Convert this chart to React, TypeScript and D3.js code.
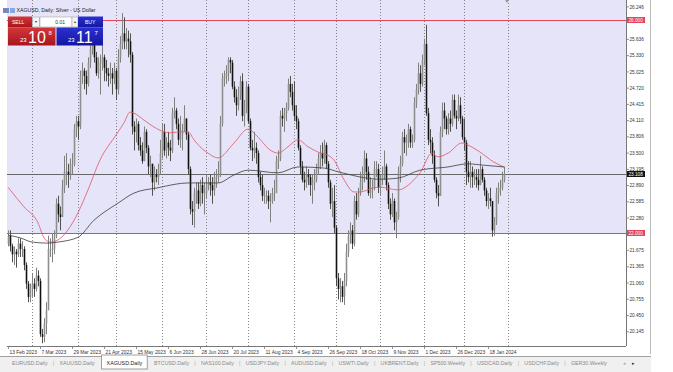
import React from 'react';
import * as d3 from 'd3';

// ---------- data ----------
const startDate = '2023-02-13';
const closedDays = ['2023-04-07', '2023-12-25', '2024-01-01'];
const firstOpen = 21.8;

const closes = [
  // Feb
  21.95, 21.75, 21.6, 21.65, 21.6, 21.8, 21.7, 21.7, 21.4, 21.05, 20.8, 20.95,
  // Mar
  21.05, 20.95, 21.2, 21.1, 20.1, 20.05, 20.3, 20.55, 21.7, 21.7, 21.7, 21.95, 22.55, 22.35, 22.3, 22.85, 23.15, 23.15, 23.1, 23.3, 23.3, 23.95, 24.1,
  // Apr
  24.0, 24.95, 25.05, 24.95, 24.8, 25.2, 25.45, 25.6, 25.3, 25.0, 25.2, 25.2, 25.3, 25.1, 25.0, 24.95, 25.0, 24.9, 25.05,
  // May
  24.7, 25.3, 25.55, 25.75, 25.6, 25.65, 25.6, 25.35, 24.0, 23.9, 24.05, 23.65, 23.55, 23.35, 23.9, 23.6, 23.25, 23.3, 22.95, 23.1, 23.05, 23.2, 23.5,
  // Jun
  23.9, 23.55, 23.7, 23.6, 23.55, 24.25, 24.3, 24.05, 23.75, 23.85, 23.95, 24.15, 23.85, 23.2, 22.45, 22.4, 22.75, 22.8, 22.55, 22.9, 22.75, 22.75,
  // Jul
  22.85, 22.95, 22.9, 22.8, 23.05, 23.05, 23.1, 24.05, 24.9, 24.95, 25.0, 25.25, 25.2, 24.75, 24.55, 24.4, 24.6, 24.85, 24.2, 24.35, 24.75,
  // Aug
  24.1, 23.6, 23.55, 23.6, 23.5, 23.05, 22.9, 22.7, 22.7, 22.7, 22.6, 22.6, 22.75, 22.75, 23.35, 23.4, 24.2, 24.15, 24.25, 24.35, 24.8, 24.65, 24.4,
  // Sep
  24.2, 24.1, 23.6, 23.25, 23.0, 22.95, 23.1, 23.05, 22.9, 22.95, 23.0, 23.2, 23.4, 23.5, 23.4, 23.65, 23.3, 22.95, 22.55, 22.6, 22.1,
  // Oct
  21.15, 20.95, 21.0, 20.8, 21.1, 21.65, 21.95, 22.05, 21.8, 22.6, 22.35, 22.75, 22.95, 23.1, 23.4, 23.15, 22.75, 22.85, 22.85, 23.2, 23.2, 22.85,
  // Nov
  23.0, 23.1, 23.25, 22.9, 22.55, 22.35, 22.6, 22.2, 22.3, 23.15, 23.3, 23.8, 23.7, 23.7, 23.95, 23.7, 23.75, 24.45, 24.7, 25.0, 24.8, 25.25,
  // Dec
  25.55, 24.25, 23.75, 23.7, 23.45, 23.0, 22.75, 22.7, 23.9, 24.3, 24.15, 23.95, 24.15, 24.05, 24.5, 24.2, 24.15, 24.4, 24.15, 23.8,
  // Jan
  23.7, 23.15, 23.05, 23.15, 23.05, 23.05, 23.0, 22.9, 23.2, 23.0, 22.8, 22.6, 22.65, 22.6, 22.05, 22.2, 22.75, 22.85, 22.85, 23.0, 23.108,
];

const highs = [
  22.05, 22.05, 21.8, 21.75, 21.7, 21.9, 21.9, 21.85, 21.75, 21.45, 21.1, 21.05,
  21.25, 21.15, 21.35, 21.3, 21.15, 20.2, 20.4, 20.7, 21.95, 21.9, 22.0, 22.05, 22.65, 22.7, 22.5, 23.0, 23.45, 23.5, 23.3, 23.4, 23.5, 24.05, 24.2,
  24.2, 25.05, 25.2, 25.1, 25.05, 25.3, 25.55, 25.72, 25.78, 25.4, 25.3, 25.35, 25.55, 25.35, 25.25, 25.1, 25.2, 25.1, 25.2,
  25.1, 25.45, 25.7, 26.13, 26.05, 25.85, 25.8, 25.75, 25.4, 24.1, 24.15, 24.1, 23.8, 23.7, 24.0, 23.95, 23.65, 23.45, 23.3, 23.25, 23.2, 23.3, 23.75,
  24.05, 24.05, 23.8, 23.9, 23.75, 24.35, 24.55, 24.35, 24.15, 24.2, 24.05, 24.4, 24.15, 23.9, 23.25, 22.6, 22.85, 22.95, 22.95, 23.0, 23.05, 22.95,
  23.1, 23.05, 23.1, 23.05, 23.15, 23.2, 23.35, 24.2, 25.0, 25.05, 25.15, 25.3, 25.3, 25.25, 24.85, 24.7, 24.75, 24.95, 25.0, 24.5, 24.85,
  24.8, 24.15, 23.75, 23.9, 23.7, 23.55, 23.15, 23.1, 22.85, 22.8, 22.8, 22.75, 22.85, 23.0, 23.45, 23.55, 24.3, 24.35, 24.35, 24.45, 24.9, 24.95, 24.8,
  24.85, 24.4, 24.15, 23.65, 23.35, 23.15, 23.25, 23.2, 23.1, 23.1, 23.2, 23.3, 23.5, 23.65, 23.7, 23.75, 23.7, 23.35, 23.0, 22.85, 22.9,
  22.15, 21.25, 21.15, 21.1, 21.25, 21.8, 22.05, 22.2, 22.15, 22.7, 22.75, 22.85, 23.15, 23.25, 23.55, 23.5, 23.25, 23.05, 23.0, 23.35, 23.35, 23.3,
  23.1, 23.25, 23.55, 23.3, 22.95, 22.65, 22.75, 22.65, 22.4, 23.25, 23.45, 23.9, 23.95, 23.85, 24.05, 24.0, 23.85, 24.55, 24.8, 25.2, 25.15, 25.35,
  25.65, 25.91, 24.35, 23.95, 23.8, 23.55, 23.05, 22.9, 24.0, 24.45, 24.45, 24.2, 24.25, 24.3, 24.6, 24.6, 24.3, 24.6, 24.55, 24.2,
  24.15, 23.75, 23.35, 23.35, 23.25, 23.2, 23.2, 23.2, 23.45, 23.25, 23.05, 22.85, 22.75, 22.85, 22.6, 22.3, 22.85, 22.95, 23.0, 23.15, 23.25,
];

const lows = [
  21.75, 21.65, 21.45, 21.4, 21.35, 21.55, 21.55, 21.55, 21.3, 20.95, 20.7, 20.7,
  20.8, 20.8, 20.9, 21.0, 20.05, 19.93, 19.95, 20.1, 20.55, 21.55, 21.45, 21.6, 21.9, 22.2, 22.05, 22.3, 22.75, 22.9, 22.85, 23.0, 23.1, 23.25, 23.8,
  23.75, 23.95, 24.8, 24.7, 24.6, 24.75, 25.1, 25.35, 25.2, 24.95, 24.9, 24.6, 25.05, 24.85, 24.85, 24.75, 24.8, 24.6, 24.8,
  24.5, 24.6, 25.2, 25.45, 25.45, 25.45, 25.3, 25.2, 23.85, 23.55, 23.7, 23.55, 23.45, 23.3, 23.35, 23.5, 23.1, 23.05, 22.7, 22.8, 22.95, 22.9, 23.1,
  23.4, 23.45, 23.4, 23.45, 23.35, 23.5, 24.15, 23.95, 23.65, 23.6, 23.55, 23.9, 23.75, 23.1, 22.35, 22.15, 22.1, 22.55, 22.45, 22.5, 22.55, 22.35,
  22.65, 22.8, 22.7, 22.55, 22.7, 22.85, 22.95, 23.05, 24.0, 24.75, 24.8, 24.85, 25.0, 24.7, 24.45, 24.2, 24.3, 24.5, 24.1, 24.0, 24.25,
  24.05, 23.55, 23.35, 23.4, 23.3, 22.95, 22.8, 22.6, 22.55, 22.55, 22.45, 22.2, 22.55, 22.6, 22.75, 23.2, 23.35, 24.0, 23.9, 24.1, 24.3, 24.55, 24.3,
  24.1, 23.95, 23.55, 23.1, 22.95, 22.8, 22.85, 22.9, 22.7, 22.55, 22.8, 22.95, 23.1, 23.2, 23.25, 23.3, 23.2, 22.85, 22.45, 22.3, 22.0,
  21.0, 20.75, 20.7, 20.7, 20.65, 21.0, 21.55, 21.8, 21.7, 21.75, 22.25, 22.3, 22.7, 22.8, 22.95, 23.0, 22.7, 22.65, 22.65, 22.8, 23.05, 22.75,
  22.7, 22.9, 23.0, 22.8, 22.45, 22.25, 22.3, 22.05, 21.9, 22.25, 22.95, 23.25, 23.5, 23.45, 23.6, 23.6, 23.6, 23.7, 24.35, 24.6, 24.65, 24.75,
  25.15, 24.2, 23.65, 23.5, 23.3, 22.95, 22.65, 22.5, 22.7, 23.8, 23.95, 23.85, 23.85, 23.9, 24.0, 24.15, 23.95, 24.1, 24.05, 23.75,
  23.55, 22.9, 22.95, 22.85, 22.85, 22.9, 22.85, 22.8, 22.9, 22.95, 22.7, 22.5, 22.45, 22.5, 21.93, 21.95, 22.15, 22.55, 22.7, 22.8, 22.95,
];

// moving averages: [bar index, price]
const redMA: [number, number][] = [
  [0, 22.86], [8, 22.49], [15, 22.19], [18, 21.91], [21, 21.83], [25, 21.87], [30, 22.06], [35, 22.38], [40, 22.81],
  [46, 23.37], [54, 23.84], [58, 24.07], [61, 24.27], [63, 24.25], [68, 24.12], [73, 23.99], [78, 23.9], [81, 23.88],
  [86, 23.9], [90, 23.9], [93, 23.75], [96, 23.62], [100, 23.5], [105, 23.41], [113, 23.69], [120, 23.95], [125, 23.8],
  [131, 23.56], [135, 23.5], [140, 23.62], [145, 23.75], [150, 23.62], [155, 23.52], [160, 23.46], [163, 23.37],
  [168, 23.0], [173, 22.77], [176, 22.77], [183, 22.85], [186, 22.86], [195, 22.81], [203, 23.0], [206, 23.13],
  [212, 23.5], [215, 23.43], [220, 23.5], [227, 23.69], [230, 23.65], [236, 23.52], [243, 23.33], [248, 23.24],
];
const greyMA: [number, number][] = [
  [0, 21.96], [6, 21.91], [12, 21.83], [20, 21.81], [25, 21.83], [35, 21.92], [43, 22.24], [55, 22.56], [63, 22.75],
  [75, 22.85], [90, 22.94], [105, 22.94], [113, 23.09], [120, 23.18], [135, 23.13], [145, 23.24], [158, 23.22],
  [165, 23.15], [186, 23.01], [195, 23.03], [206, 23.18], [220, 23.24], [230, 23.3], [236, 23.28], [248, 23.24],
];

const priceLabels = ['26.246', '25.636', '25.330', '25.025', '24.720', '24.415', '24.110', '23.806', '23.500', '23.195',
  '22.890', '22.585', '22.280', '21.675', '21.365', '21.060', '20.755', '20.450', '20.145'];
const levelLines = [26.0, 22.0];
const bid = 23.108;
const tabs = ['EURUSD.Daily', 'XAUUSD.Daily', 'XAGUSD.Daily', 'BTCUSD.Daily', 'NAS100.Daily', 'USDJPY.Daily',
  'AUDUSD.Daily', 'USWTI.Daily', 'UKBRENT.Daily', 'SP500.Weekly', 'USDCAD.Daily', 'USDCHF.Daily', 'GER30.Weekly'];
const activeTab = 'XAGUSD.Daily';
const labelEvery = 16;

// ---------- helpers ----------
function tradingDays(start: string, n: number, skip: string[]) {
  const out: Date[] = [];
  const d = new Date(start + 'T00:00:00Z');
  const f = d3.utcFormat('%Y-%m-%d');
  while (out.length < n) {
    const wd = d.getUTCDay();
    if (wd !== 0 && wd !== 6 && !skip.includes(f(d))) out.push(new Date(d));
    d.setUTCDate(d.getUTCDate() + 1);
  }
  return out;
}

let ctx: CanvasRenderingContext2D | null = null;
function textW(t: string, font: string) {
  if (!ctx) ctx = document.createElement('canvas').getContext('2d');
  if (!ctx) return t.length * 3;
  ctx.font = font;
  return ctx.measureText(t).width;
}

const FONT = 'Liberation Sans, Arial, sans-serif';

export default function App() {
  const W = 673, H = 372;
  const plotL = 7, plotR = 626, plotT = 0, plotB = 346;
  const n = closes.length;
  const dates = tradingDays(startDate, n + 2, closedDays);

  const x = d3.scaleLinear().domain([0, n - 1]).range([8, 8 + 2 * (n - 1)]);
  const y = d3.scaleLinear().domain([22, 26]).range([233, 20]);

  const bars = closes.map((c, i) => {
    const o = i === 0 ? firstOpen : closes[i - 1];
    return { i, o, c, h: Math.max(highs[i], o, c), l: Math.min(lows[i], o, c) };
  });

  const seps: number[] = [];
  for (let i = 1; i < dates.length; i++) {
    if (dates[i].getUTCMonth() !== dates[i - 1].getUTCMonth()) seps.push(i);
  }
  const fmtLabel = d3.utcFormat('%-d %b %Y');
  const labelIdx = d3.range(0, n, labelEvery);

  const line = d3.line<[number, number]>().x(d => x(d[0])).y(d => y(d[1])).curve(d3.curveMonotoneX);

  // tabs layout
  const tabFont = `5.3px ${FONT}`;
  const tw = tabs.map(t => textW(t, tabFont));
  const tabStart = 12, tabEnd = 607;
  const gap = (tabEnd - tabStart - d3.sum(tw)) / (tabs.length - 1);
  const tabX: number[] = [];
  let acc = tabStart;
  tw.forEach(w => { tabX.push(acc); acc += w + gap; });

  const lav = '#e6e4f8';
  const red = '#e0475a';

  return (
    <svg width={W} height={H} style={{ position: 'fixed', left: 0, top: 0, display: 'block' }}
      fontFamily={FONT}>
      <rect x={0} y={0} width={W} height={H} fill="#fff" />
      {/* shaded zone */}
      <rect x={plotL} y={plotT} width={plotR - plotL} height={y(22) - plotT} fill={lav} />

      {/* month separators */}
      {seps.map(i => (
        <line key={'s' + i} x1={x(i) + 0.5} x2={x(i) + 0.5} y1={plotT} y2={plotB}
          stroke="#6a6a6a" strokeWidth={0.8} strokeDasharray="1,2" />
      ))}

      {/* level lines */}
      {levelLines.map(v => (
        <line key={'lv' + v} x1={plotL} x2={plotR} y1={Math.round(y(v)) + 0.5} y2={Math.round(y(v)) + 0.5}
          stroke={red} strokeWidth={1} />
      ))}
      <line x1={plotL} x2={plotR} y1={Math.round(y(bid)) + 0.5} y2={Math.round(y(bid)) + 0.5} stroke="#5a5a5a" strokeWidth={0.9} />

      {/* candles */}
      {bars.map(b => {
        const cx = x(b.i) + 0.5;
        const top = y(Math.max(b.o, b.c));
        const bot = y(Math.min(b.o, b.c));
        const bull = b.c >= b.o;
        return (
          <g key={'c' + b.i}>
            <line x1={cx} x2={cx} y1={y(b.h)} y2={y(b.l)} stroke={bull ? '#808080' : '#505050'} strokeWidth={1} />
            <rect x={cx - 0.8} y={top} width={1.6} height={Math.max(0.8, bot - top)}
              fill={bull ? '#8f8f8f' : '#111'} />
          </g>
        );
      })}

      {/* moving averages */}
      <path d={line(redMA) || ''} fill="none" stroke="#e0566a" strokeWidth={0.8} />
      <path d={line(greyMA) || ''} fill="none" stroke="#3c3c3c" strokeWidth={0.8} />

      {/* chart-shift marker */}
      <path d={`M${x(n - 1) + 1},0 L${x(n - 1) + 5},0 L${x(n - 1) + 3},3 Z`} fill="#999" />

      {/* borders */}
      <line x1={plotR + 0.5} x2={plotR + 0.5} y1={0} y2={plotB} stroke="#777" strokeWidth={1} />
      <line x1={plotL} x2={plotR} y1={plotB + 0.5} y2={plotB + 0.5} stroke="#777" strokeWidth={1} />
      <line x1={650.5} x2={650.5} y1={0} y2={354} stroke="#bbb" strokeWidth={1} />

      {/* price axis */}
      {priceLabels.map(t => {
        const yy = y(+t);
        return (
          <g key={'p' + t}>
            <line x1={plotR} x2={plotR + 3} y1={yy} y2={yy} stroke="#777" strokeWidth={0.8} />
            <text x={plotR + 3.5} y={yy} dy="0.35em" fontSize={4.7} fill="#333">{t}</text>
          </g>
        );
      })}
      {levelLines.map(v => (
        <g key={'rl' + v}>
          <rect x={plotR + 1} y={y(v) - 3} width={18} height={6} fill={red} />
          <text x={plotR + 2.5} y={y(v)} dy="0.35em" fontSize={4.7} fill="#fff">{v.toFixed(3)}</text>
        </g>
      ))}
      <rect x={plotR + 1} y={y(bid) - 3} width={18} height={6} fill="#111" />
      <text x={plotR + 2.5} y={y(bid)} dy="0.35em" fontSize={4.7} fill="#fff">{bid.toFixed(3)}</text>

      {/* time axis */}
      {labelIdx.map(i => (
        <g key={'t' + i}>
          <line x1={x(i) + 0.5} x2={x(i) + 0.5} y1={plotB} y2={plotB + 3} stroke="#777" strokeWidth={0.8} />
          <text x={x(i) + 1.5} y={352} dy="0.35em" fontSize={4.9} fill="#333">{fmtLabel(dates[i])}</text>
        </g>
      ))}

      {/* watermark box */}
      <rect x={601} y={327} width={25} height={19} fill="#fff" opacity={0.75} />

      {/* tab bar */}
      <rect x={0} y={356} width={651} height={16} fill="#f0f0f0" />
      <line x1={0} x2={651} y1={356.5} y2={356.5} stroke="#a0a0a0" strokeWidth={1} />
      {tabs.map((t, k) => {
        const active = t === activeTab;
        return (
          <g key={'tab' + t}>
            {active && (
              <rect x={tabX[k] - 5} y={355} width={tw[k] + 10} height={14} fill="#fff" stroke="#888" strokeWidth={0.8} />
            )}
            <text x={tabX[k]} y={363} dy="0.35em" fontSize={5.3} fill={active ? '#222' : '#8a8a8a'}>{t}</text>
            {k < tabs.length - 1 && !active && tabs[k + 1] !== activeTab && (
              <text x={tabX[k] + tw[k] + gap / 2} y={363} dy="0.35em" fontSize={5.3} fill="#aaa" textAnchor="middle">|</text>
            )}
          </g>
        );
      })}
      <text x={623} y={363} dy="0.35em" fontSize={4.5} fill="#aaa">◂</text>
      <text x={632} y={363} dy="0.35em" fontSize={4.5} fill="#333">▸</text>

      {/* title and one-click trading panel */}
      <rect x={3} y={8} width={6} height={5} fill="#6a8fd0" />
      <rect x={4} y={9} width={2} height={2} fill="#e05a5a" />
      <rect x={10} y={8} width={5} height={5} fill="#8aa6dc" />
      <text x={16.5} y={10.5} dy="0.35em" fontSize={5.2} fill="#222">XAGUSD, Daily:  Silver - US Dollar</text>

      <defs>
        <linearGradient id="gRed" x1="0" x2="0" y1="0" y2="1">
          <stop offset="0" stopColor="#d2373b" />
          <stop offset="1" stopColor="#a8151c" />
        </linearGradient>
        <linearGradient id="gBlue" x1="0" x2="0" y1="0" y2="1">
          <stop offset="0" stopColor="#2b2fd0" />
          <stop offset="1" stopColor="#1417a0" />
        </linearGradient>
      </defs>
      <rect x={8} y={16.5} width={24} height={11} fill="url(#gRed)" />
      <text x={12} y={22} dy="0.35em" fontSize={5} fill="#fff">SELL</text>
      <rect x={32.5} y={17} width={7} height={10} fill="#f4f4f4" stroke="#999" strokeWidth={0.5} />
      <text x={36} y={22} dy="0.35em" fontSize={4} fill="#333" textAnchor="middle">▾</text>
      <rect x={40} y={17} width={32} height={10} fill="#fff" stroke="#999" strokeWidth={0.5} />
      <text x={65} y={22} dy="0.35em" fontSize={5} fill="#333" textAnchor="end">0.01</text>
      <rect x={72} y={17} width={6} height={10} fill="#f4f4f4" stroke="#999" strokeWidth={0.5} />
      <text x={75} y={22} dy="0.35em" fontSize={4} fill="#333" textAnchor="middle">▴</text>
      <rect x={78} y={16.5} width={25} height={11} fill="url(#gBlue)" />
      <text x={85} y={22} dy="0.35em" fontSize={5} fill="#fff">BUY</text>

      <rect x={8} y={27.5} width={47.5} height={18} fill="url(#gRed)" />
      <text x={20} y={42} fontSize={6} fill="#fff">23</text>
      <text x={28} y={43} fontSize={16} fill="#fff">10</text>
      <text x={48.5} y={35} fontSize={6} fill="#fff">8</text>
      <rect x={56.5} y={27.5} width={46.5} height={18} fill="url(#gBlue)" />
      <text x={68} y={42} fontSize={6} fill="#fff">23</text>
      <text x={76} y={43} fontSize={16} fill="#fff">11</text>
      <text x={94.5} y={35} fontSize={6} fill="#fff">7</text>
    </svg>
  );
}
